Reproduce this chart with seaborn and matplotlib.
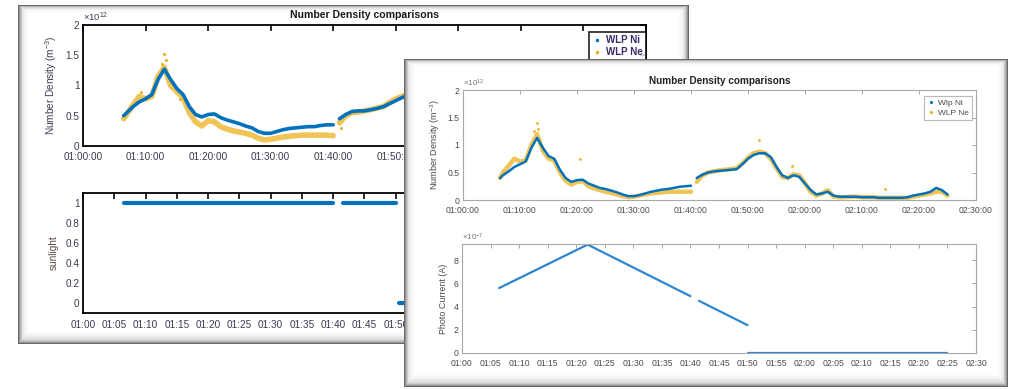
import numpy as np
import pandas as pd
import matplotlib
matplotlib.use("Agg")
import matplotlib.pyplot as plt
import seaborn as sns
from matplotlib.patches import Rectangle
from matplotlib.lines import Line2D
from matplotlib.ticker import FuncFormatter, FixedLocator

# ---------------- data (minutes after 01:00, densities in 1e12 m^-3) ----------------
back_t1 = [6.5, 8, 9, 10, 11, 12, 13, 14, 15, 16, 17, 18, 19, 20, 21, 22, 23, 24, 25,
           26, 27, 28, 29, 30, 31, 32, 33, 34, 35, 36, 37, 38, 39, 40]
back_ni1 = [0.50, 0.65, 0.73, 0.78, 0.85, 1.10, 1.27, 1.10, 0.95, 0.85, 0.65, 0.52, 0.48,
            0.52, 0.53, 0.47, 0.43, 0.40, 0.37, 0.33, 0.30, 0.24, 0.21, 0.21, 0.24, 0.27,
            0.29, 0.30, 0.31, 0.32, 0.32, 0.34, 0.35, 0.35]
back_ne1 = [0.45, 0.68, 0.82, 0.78, 0.82, 1.15, 1.30, 1.00, 0.90, 0.80, 0.55, 0.40, 0.33,
            0.42, 0.40, 0.32, 0.28, 0.25, 0.23, 0.21, 0.18, 0.13, 0.10, 0.11, 0.13, 0.15,
            0.16, 0.17, 0.18, 0.18, 0.18, 0.18, 0.18, 0.17]
back_t2 = [41, 42, 43, 44, 45, 46, 47, 48, 49, 50, 51, 52]
back_ni2 = [0.45, 0.52, 0.57, 0.58, 0.58, 0.60, 0.62, 0.65, 0.70, 0.75, 0.80, 0.85]
back_ne2 = [0.38, 0.50, 0.55, 0.56, 0.58, 0.60, 0.63, 0.65, 0.72, 0.78, 0.82, 0.86]
back_ne_out_t = [12.6, 12.9, 13.2, 9.2, 41.3, 15.5]
back_ne_out_v = [1.35, 1.52, 1.42, 0.90, 0.30, 0.78]

front_t1 = [6.5, 7, 8, 9, 10, 11, 12, 13, 14, 15, 16, 17, 18, 19, 20, 21, 22, 23, 24, 25,
            26, 27, 28, 29, 30, 31, 32, 33, 34, 35, 36, 37, 38, 39, 40]
front_ni1 = [0.40, 0.45, 0.52, 0.60, 0.65, 0.70, 0.95, 1.13, 0.95, 0.80, 0.75, 0.55, 0.40,
             0.33, 0.36, 0.37, 0.30, 0.26, 0.22, 0.20, 0.17, 0.14, 0.10, 0.07, 0.07, 0.09,
             0.12, 0.15, 0.17, 0.19, 0.20, 0.22, 0.24, 0.25, 0.26]
front_ne1 = [0.40, 0.50, 0.62, 0.75, 0.70, 0.72, 1.00, 1.20, 0.90, 0.75, 0.72, 0.50, 0.35,
             0.28, 0.33, 0.34, 0.25, 0.21, 0.18, 0.15, 0.13, 0.10, 0.07, 0.05, 0.06, 0.08,
             0.10, 0.12, 0.13, 0.14, 0.15, 0.15, 0.15, 0.15, 0.15]
front_t2 = [41, 42, 43, 44, 45, 46, 47, 48, 49, 50, 51, 52, 53, 54, 55, 56, 57, 58, 59, 60,
            61, 62, 63, 64, 65, 66, 67, 68, 69, 70, 71, 72, 73, 74, 75, 76, 77, 78, 79, 80,
            81, 82, 83, 84, 85]
front_ni2 = [0.40, 0.46, 0.50, 0.52, 0.53, 0.54, 0.55, 0.56, 0.65, 0.75, 0.82, 0.85, 0.85,
             0.78, 0.60, 0.45, 0.40, 0.45, 0.42, 0.30, 0.18, 0.10, 0.12, 0.15, 0.08, 0.06,
             0.06, 0.06, 0.06, 0.05, 0.05, 0.05, 0.04, 0.04, 0.04, 0.04, 0.04, 0.05, 0.08,
             0.10, 0.12, 0.15, 0.22, 0.18, 0.10]
front_ne2 = [0.33, 0.45, 0.50, 0.52, 0.54, 0.55, 0.56, 0.58, 0.66, 0.77, 0.85, 0.88, 0.85,
             0.75, 0.58, 0.42, 0.40, 0.47, 0.45, 0.30, 0.15, 0.08, 0.12, 0.18, 0.06, 0.05,
             0.05, 0.06, 0.06, 0.05, 0.05, 0.05, 0.04, 0.04, 0.04, 0.04, 0.04, 0.04, 0.06,
             0.08, 0.10, 0.12, 0.15, 0.15, 0.08]
front_ne_out_t = [12.9, 13.2, 20.5, 52.0, 57.8, 74.0, 12.5]
front_ne_out_v = [1.40, 1.30, 0.75, 1.10, 0.62, 0.20, 1.25]

sun_t = [6.5, 40, 41.5, 50, 50.5, 85]
sun_v = [1, 1, 1, 1, 0, 0]
sun_seg = [0, 0, 1, 1, 2, 2]

pc_t = [6.5, 22, 40, 41.5, 50, 50, 85]
pc_v = [5.6, 9.35, 4.9, 4.5, 2.4, 0.0, 0.0]      # 1e-7 A
pc_seg = [0, 0, 0, 1, 1, 2, 2]

BLUE = "#0072BD"
GOLD = "#EDB120"


def dens_df(t1, ni1, ne1, t2, ni2, ne2):
    assert len(t1) == len(ni1) == len(ne1) and len(t2) == len(ni2) == len(ne2)
    return pd.DataFrame({
        "t": [x + 60 for x in t1 + t2],
        "ni": ni1 + ni2,
        "ne": ne1 + ne2,
        "seg": [0] * len(t1) + [1] * len(t2),
    })


back_df = dens_df(back_t1, back_ni1, back_ne1, back_t2, back_ni2, back_ne2)
front_df = dens_df(front_t1, front_ni1, front_ne1, front_t2, front_ni2, front_ne2)
sun_df = pd.DataFrame({"t": [x + 60 for x in sun_t], "v": sun_v, "seg": sun_seg})
pc_df = pd.DataFrame({"t": [x + 60 for x in pc_t], "v": pc_v, "seg": pc_seg})

# ---------------- figure ----------------
sns.set_style("white")
plt.rcParams["font.family"] = ["Liberation Sans", "DejaVu Sans"]
plt.rcParams["mathtext.fontset"] = "custom"
plt.rcParams["mathtext.rm"] = "Liberation Sans"
plt.rcParams["mathtext.it"] = "Liberation Sans:italic"
plt.rcParams["mathtext.bf"] = "Liberation Sans:bold"

W, H = 1012, 389
fig = plt.figure(figsize=(W / 100, H / 100), dpi=100)
fig.patch.set_facecolor("white")


def frac(x0, y0, x1, y1):
    return [x0 / W, 1 - y1 / H, (x1 - x0) / W, (y1 - y0) / H]


def rect(x0, y0, x1, y1, z, **kw):
    fig.add_artist(Rectangle((x0 / W, 1 - y1 / H), (x1 - x0) / W, (y1 - y0) / H,
                             transform=fig.transFigure, zorder=z, edgecolor="none", **kw))


def panel(x0, y0, x1, y1, z, gw=(9, 6, 9, 11)):
    l, t, r, b = gw
    rect(x0, y0, x1, y1, z, facecolor="#686868")
    n = 10
    for i in range(1, n + 1):
        f = i / n
        rect(x0 + l * f, y0 + t * f, x1 - r * f, y1 - b * f, z, facecolor="white", alpha=0.3)
    rect(x0 + l + 1, y0 + t + 1, x1 - r - 1, y1 - b - 1, z, facecolor="white")


def fmt_hms(v, pos):
    m = int(round(v))
    return f"{m // 60:02d}:{m % 60:02d}:00"


def fmt_hm(v, pos):
    m = int(round(v))
    return f"{m // 60:02d}:{m % 60:02d}"


def hidden_after(fmt, limit):
    # labels of the back figure that lie under the front figure are not drawn
    return lambda v, pos: fmt(v, pos) if v <= limit else ""


def style(ax, sc, lw, tc, fs, tl, xpad):
    for s in ax.spines.values():
        s.set_visible(True)
        s.set_color(sc)
        s.set_linewidth(lw)
    ax.tick_params(direction="in", length=tl, width=lw * 0.9, color=sc, labelcolor=tc,
                   labelsize=fs, top=True, right=True, pad=2.5)
    ax.tick_params(axis="x", pad=xpad)
    ax.grid(False)
    ax.set_xlabel("")


panel(18, 5, 689, 344, 0.5)
panel(404, 59, 1008, 387, 2.0)

# ---------------- back panel ----------------
BT = "#3b3b52"
ax1 = fig.add_axes(frac(83, 25, 646, 146), zorder=1)
sns.lineplot(data=back_df, x="t", y="ne", units="seg", estimator=None, sort=False,
             ax=ax1, color=GOLD, lw=4.0, alpha=0.75, legend=False)
sns.scatterplot(x=[x + 60 for x in back_ne_out_t], y=back_ne_out_v, ax=ax1, color=GOLD,
                s=5, linewidth=0, legend=False)
sns.lineplot(data=back_df, x="t", y="ni", units="seg", estimator=None, sort=False,
             ax=ax1, color=BLUE, lw=2.6, legend=False)
ax1.set_xlim(60, 150)
ax1.set_ylim(0, 2)
ax1.xaxis.set_major_locator(FixedLocator(list(range(60, 151, 10))))
ax1.xaxis.set_major_formatter(FuncFormatter(hidden_after(fmt_hms, 110)))
ax1.yaxis.set_major_locator(FixedLocator([0, 0.5, 1, 1.5, 2]))
ax1.yaxis.set_major_formatter(FuncFormatter(lambda v, p: f"{v:g}"))
style(ax1, "black", 1.3, BT, 7.2, 4, 4.5)
ax1.set_ylabel("Number Density (m$^{-3}$)", fontsize=7.2, color=BT, labelpad=5)
ax1.set_title("Number Density comparisons", fontsize=7.6, fontweight="bold", color="#1a1a1a", pad=5)
ax1.text(0.0, 1.01, r"$\times10^{12}$", transform=ax1.transAxes, fontsize=6.8, color=BT,
         ha="left", va="bottom")
h1 = [Line2D([], [], marker=".", ls="", color=BLUE, ms=3),
      Line2D([], [], marker=".", ls="", color=GOLD, ms=3)]
lg1 = ax1.legend(h1, ["WLP Ni", "WLP Ne"], loc="upper right", bbox_to_anchor=(1.0, 0.945),
                 borderaxespad=0, frameon=True, fancybox=False, handlelength=1.0,
                 handletextpad=0.4, borderpad=0.35, labelspacing=0.25,
                 prop={"weight": "bold", "size": 7.0})
lg1.get_frame().set_edgecolor("black")
lg1.get_frame().set_linewidth(1.3)
for t in lg1.get_texts():
    t.set_color("#3a2a6a")

ax2 = fig.add_axes(frac(83, 193, 646, 313), zorder=1)
sns.lineplot(data=sun_df, x="t", y="v", units="seg", estimator=None, sort=False,
             ax=ax2, color=BLUE, lw=3.0, legend=False)
ax2.set_xlim(60, 150)
ax2.set_ylim(-0.1, 1.1)
ax2.xaxis.set_major_locator(FixedLocator(list(range(60, 151, 5))))
ax2.xaxis.set_major_formatter(FuncFormatter(hidden_after(fmt_hm, 110)))
ax2.yaxis.set_major_locator(FixedLocator([0, 0.2, 0.4, 0.6, 0.8, 1]))
ax2.yaxis.set_major_formatter(FuncFormatter(lambda v, p: f"{v:g}"))
style(ax2, "black", 1.3, BT, 7.2, 4, 5)
ax2.set_ylabel("sunlight", fontsize=7.2, color="#5a4640", labelpad=5)

# ---------------- front panel ----------------
FT = "#4a4a4a"
FS = "#a8a8a8"
ax3 = fig.add_axes(frac(463, 90, 976, 200), zorder=3)
sns.lineplot(data=front_df, x="t", y="ne", units="seg", estimator=None, sort=False,
             ax=ax3, color=GOLD, lw=3.2, alpha=0.75, legend=False)
sns.scatterplot(x=[x + 60 for x in front_ne_out_t], y=front_ne_out_v, ax=ax3, color=GOLD,
                s=4, linewidth=0, legend=False)
sns.lineplot(data=front_df, x="t", y="ni", units="seg", estimator=None, sort=False,
             ax=ax3, color=BLUE, lw=1.8, legend=False)
ax3.set_xlim(60, 150)
ax3.set_ylim(0, 2)
ax3.xaxis.set_major_locator(FixedLocator(list(range(60, 151, 10))))
ax3.xaxis.set_major_formatter(FuncFormatter(fmt_hms))
ax3.yaxis.set_major_locator(FixedLocator([0, 0.5, 1, 1.5, 2]))
ax3.yaxis.set_major_formatter(FuncFormatter(lambda v, p: f"{v:g}"))
style(ax3, FS, 0.8, FT, 6.2, 3, 4)
ax3.set_ylabel("Number Density (m$^{-3}$)", fontsize=6.6, color=FT, labelpad=4)
ax3.set_title("Number Density comparisons", fontsize=7.2, fontweight="bold", color="#222222", pad=4)
ax3.text(0.0, 1.01, r"$\times10^{12}$", transform=ax3.transAxes, fontsize=5.8, color="#777777",
         ha="left", va="bottom")
h3 = [Line2D([], [], marker=".", ls="", color=BLUE, ms=2.5),
      Line2D([], [], marker=".", ls="", color=GOLD, ms=2.5)]
lg3 = ax3.legend(h3, ["Wlp Ni", "WLP Ne"], loc="upper right", bbox_to_anchor=(0.992, 0.945),
                 borderaxespad=0, fontsize=6.0, frameon=True, fancybox=False, handlelength=1.0,
                 handletextpad=0.4, borderpad=0.35, labelspacing=0.25)
lg3.get_frame().set_edgecolor(FS)
lg3.get_frame().set_linewidth(0.8)
for t in lg3.get_texts():
    t.set_color(FT)

ax4 = fig.add_axes(frac(462, 244, 976, 353), zorder=3)
sns.lineplot(data=pc_df, x="t", y="v", units="seg", estimator=None, sort=False,
             ax=ax4, color="#2f86d0", lw=1.6, legend=False)
ax4.set_xlim(60, 150)
ax4.set_ylim(0, 9.4)
ax4.xaxis.set_major_locator(FixedLocator(list(range(60, 151, 5))))
ax4.xaxis.set_major_formatter(FuncFormatter(fmt_hm))
ax4.yaxis.set_major_locator(FixedLocator([0, 2, 4, 6, 8]))
ax4.yaxis.set_major_formatter(FuncFormatter(lambda v, p: f"{v:g}"))
style(ax4, FS, 0.8, FT, 6.2, 3, 4)
ax4.set_ylabel("Photo Current (A)", fontsize=6.4, color=FT, labelpad=4)
ax4.text(0.0, 1.01, r"$\times10^{-7}$", transform=ax4.transAxes, fontsize=5.8, color="#777777",
         ha="left", va="bottom")

fig.savefig("out.png", dpi=100, facecolor="white")
